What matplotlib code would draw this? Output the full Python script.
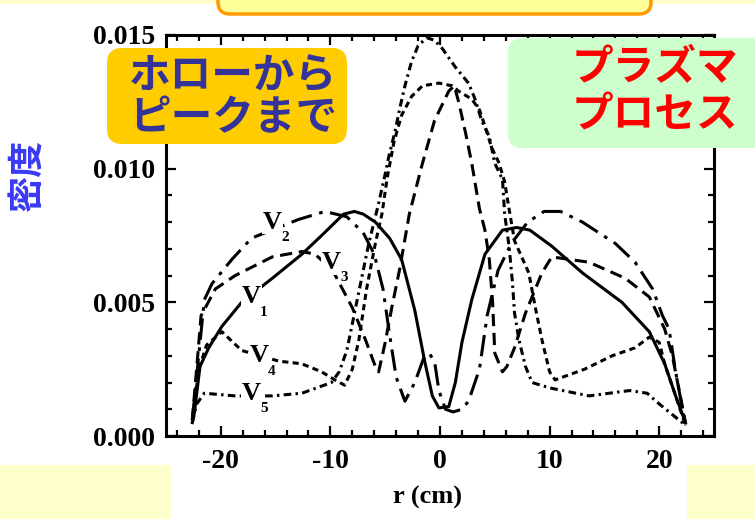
import matplotlib
matplotlib.use("Agg")
import matplotlib.pyplot as plt
from matplotlib.patches import FancyBboxPatch, Rectangle
from matplotlib.ticker import MultipleLocator, FormatStrFormatter

plt.rcParams["axes.unicode_minus"] = False

# density profiles n(r)
r_v1 = [-22.6, -22.4, -21.9, -21.1, -19.9, -18.1, -15.3, -12.6, -10.8, -9.8, -8.8, -7.8, -7.0,
        -5.9, -4.6, -3.5, -2.3, -1.4, -0.7, -0.1, 0.8, 1.4, 2.0, 2.9, 4.1, 5.7, 7.0, 8.2, 10.2,
        13.0, 16.6, 19.1, 20.5, 21.5, 22.4]
n_v1 = [0.0005, 0.0009, 0.0026, 0.0033, 0.0041, 0.0050, 0.0059, 0.0068, 0.0075, 0.0079, 0.0083,
        0.0084, 0.0083, 0.0080, 0.0074, 0.0066, 0.0047, 0.0028, 0.0015, 0.00105, 0.0011, 0.0020,
        0.0035, 0.0051, 0.0068, 0.0077, 0.0078, 0.0077, 0.0071, 0.0061, 0.0050, 0.0039, 0.0027,
        0.0015, 0.0005]

r_v2 = [-22.6, -21.7, -21.5, -20.8, -19.0, -17.2, -12.9, -10.5, -8.5, -7.0, -6.0, -5.2, -4.6,
        -4.0, -3.2, -2.3, -1.5, -1.0, -0.5, -0.1, 0.5, 1.2, 2.0, 2.6, 3.6, 4.3, 5.3, 6.5, 8.0,
        9.5, 11.0, 13.0, 16.0, 17.8, 19.4, 20.3, 20.9, 21.5, 22.4]
n_v2 = [0.0006, 0.0043, 0.0051, 0.0057, 0.0066, 0.0074, 0.0081, 0.0084, 0.0082, 0.0076, 0.0068,
        0.0055, 0.0038, 0.0022, 0.0013, 0.0020, 0.0029, 0.0031, 0.0028, 0.0017, 0.0010, 0.0009,
        0.0010, 0.0013, 0.0025, 0.0045, 0.0062, 0.0072, 0.0080, 0.0084, 0.0084, 0.0080, 0.0072,
        0.0065, 0.0055, 0.0045, 0.0040, 0.0024, 0.0004]

r_v3 = [-22.6, -21.8, -20.5, -18.7, -15.3, -12.6, -11.4, -9.8, -8.0, -6.8, -5.9, -5.6, -5.0,
        -4.4, -3.7, -2.8, -1.6, -0.5, 0.8, 1.3, 1.7, 2.3, 2.9, 3.6, 4.1, 4.5, 4.8, 5.0, 5.7, 6.1,
        6.8, 7.8, 8.4, 9.3, 10.2, 13.6, 16.9, 19.1, 20.5, 21.2, 22.4]
n_v3 = [0.0006, 0.0045, 0.0055, 0.0060, 0.0067, 0.0069, 0.0068, 0.0062, 0.0048, 0.0036, 0.0026,
        0.0024, 0.0035, 0.0048, 0.0062, 0.0083, 0.0102, 0.0118, 0.0129, 0.0131, 0.0125, 0.0114,
        0.0102, 0.0085, 0.0077, 0.0066, 0.0050, 0.0031, 0.0024, 0.0026, 0.0033, 0.0046, 0.0052,
        0.0061, 0.0067, 0.0065, 0.0059, 0.0052, 0.0040, 0.0030, 0.0005]

r_v4 = [-22.6, -22.0, -21.3, -19.9, -18.1, -14.7, -12.6, -10.8, -9.6, -8.7, -8.0, -7.4, -6.7,
        -5.9, -5.3, -4.8, -4.2, -3.5, -2.6, -1.6, -0.1, 1.1, 1.7, 2.9, 3.6, 4.1, 4.7, 5.4, 5.9,
        6.3, 6.8, 8.1, 8.7, 9.3, 10.0, 10.5, 13.2, 15.7, 17.8, 19.1, 20.0, 20.5, 21.5, 22.4]
n_v4 = [0.0006, 0.0025, 0.0034, 0.0039, 0.0032, 0.0028, 0.0027, 0.0024, 0.0021, 0.0019, 0.0025,
        0.0036, 0.0055, 0.0072, 0.0083, 0.0097, 0.0110, 0.0120, 0.0127, 0.0131, 0.0132, 0.0131,
        0.0129, 0.0126, 0.0122, 0.0116, 0.0108, 0.0102, 0.0095, 0.0085, 0.0073, 0.0061, 0.0048,
        0.0036, 0.0024, 0.0021, 0.0025, 0.0030, 0.0033, 0.0037, 0.0035, 0.0027, 0.0015, 0.0004]

r_v5 = [-22.6, -22.2, -21.5, -18.7, -15.3, -12.6, -9.9, -9.2, -8.5, -7.8, -6.5, -5.9, -5.6,
        -5.0, -4.7, -4.1, -3.7, -3.2, -2.6, -2.0, -1.2, -0.5, 0.2, 1.4, 2.6, 3.2, 3.8, 4.5, 5.0,
        5.7, 5.9, 6.3, 6.6, 6.8, 7.2, 7.8, 8.4, 10.0, 13.6, 17.3, 18.9, 20.0, 21.2, 22.4]
n_v5 = [0.0005, 0.0012, 0.0016, 0.0015, 0.0015, 0.0016, 0.0020, 0.0024, 0.0032, 0.0046, 0.0072,
        0.0082, 0.0087, 0.0098, 0.0104, 0.0114, 0.0122, 0.0131, 0.0140, 0.0146, 0.0149, 0.0148,
        0.0145, 0.0138, 0.0132, 0.0126, 0.0118, 0.0112, 0.0102, 0.0096, 0.0083, 0.0071, 0.0058,
        0.0046, 0.0036, 0.0026, 0.0020, 0.0018, 0.0015, 0.0017, 0.0016, 0.0012, 0.0008, 0.0004]

series = [("1", r_v1, n_v1), ("2", r_v2, n_v2), ("3", r_v3, n_v3), ("4", r_v4, n_v4), ("5", r_v5, n_v5)]
styles = {"1": "-", "2": (0, (7, 2.5, 1.2, 2.5)), "3": (0, (4, 2.2)),
          "4": (0, (2, 1.4)), "5": (0, (2.5, 1.4, 0.8, 1.4))}
# where the V_i tags sit on the curves
label_pos = {"1": (-17.2, 0.0052), "2": (-15.3, 0.0080), "3": (-9.9, 0.0065),
             "4": (-16.5, 0.0030), "5": (-17.2, 0.0016)}

serif = "Liberation Serif"
jp = ["Noto Sans CJK JP", "DejaVu Sans"]

fig = plt.figure(figsize=(7.55, 5.19), dpi=100)
fig.patch.set_facecolor("white")

# axes box in pixels: left 166, right 714, top 35, bottom 436
W, H = 755, 519
ax = fig.add_axes([166 / W, (H - 436) / H, (714 - 166) / W, (436 - 35) / H])

for key, r, n in series:
    ax.plot(r, n, color="black", lw=2.2, linestyle=styles[key],
            solid_joinstyle="round", dash_joinstyle="round")

for key, (x, y) in label_pos.items():
    ax.text(x, y, "V", family=serif, weight="bold", fontsize=19, ha="center", va="center",
            bbox=dict(fc="white", ec="none", pad=0.5), zorder=4)
    ax.annotate(key, xy=(x, y), xytext=(9, -11), textcoords="offset points", family=serif,
                weight="bold", fontsize=11, ha="center", va="center", zorder=4)

ax.set_xlim(-25, 25)
ax.set_ylim(0, 0.015)
ax.xaxis.set_major_locator(MultipleLocator(10))
ax.xaxis.set_minor_locator(MultipleLocator(2))
ax.yaxis.set_major_locator(MultipleLocator(0.005))
ax.yaxis.set_minor_locator(MultipleLocator(0.001))
ax.yaxis.set_major_formatter(FormatStrFormatter("%.3f"))
ax.tick_params(which="both", direction="in", top=True, right=True, width=1.6)
ax.tick_params(which="major", length=7)
ax.tick_params(which="minor", length=4)
ax.tick_params(axis="y", pad=8)
ax.tick_params(axis="x", pad=9)
for lab in ax.get_xticklabels() + ax.get_yticklabels():
    lab.set_family(serif)
    lab.set_weight("bold")
    lab.set_fontsize(20)
for sp in ax.spines.values():
    sp.set_linewidth(2.2)

ax.set_xlabel("r (cm)", family=serif, weight="bold", fontsize=19)
ax.xaxis.set_label_coords(0.478, -0.125)
ax.set_ylabel("密度", family=jp, weight="bold", fontsize=26, color="#3a3af5",
              rotation=90, ha="center", va="center")
ax.yaxis.set_label_coords(-0.252, 0.651)

# slide decorations on top, in pixel units
ov = fig.add_axes([0, 0, 1, 1], zorder=5)
ov.set_xlim(0, W)
ov.set_ylim(H, 0)
ov.axis("off")
ov.patch.set_alpha(0)

pale = "#ffffcc"
ov.add_patch(Rectangle((0, 0), 217, 4, fc=pale, ec="none"))
ov.add_patch(Rectangle((652, 0), 103, 4, fc=pale, ec="none"))
ov.add_patch(Rectangle((0, 465), 171, 54, fc=pale, ec="none"))
ov.add_patch(Rectangle((687, 465), 68, 54, fc=pale, ec="none"))
ov.add_patch(FancyBboxPatch((218, -30), 433, 44, boxstyle="round,pad=0,rounding_size=12",
                            fc="#ffff99", ec="#ff9900", lw=2.5))
ov.add_patch(FancyBboxPatch((107, 48), 240, 96, boxstyle="round,pad=0,rounding_size=15",
                            fc="#ffcc00", ec="none"))
ov.add_patch(FancyBboxPatch((508, 38), 270, 110, boxstyle="round,pad=0,rounding_size=15",
                            fc="#ccffcc", ec="none"))

ov.text(233, 77, "ホローから", family=jp, weight="bold", fontsize=30, color="#333399",
        ha="center", va="center")
ov.text(233, 118, "ピークまで", family=jp, weight="bold", fontsize=30, color="#333399",
        ha="center", va="center")
ov.text(655, 68, "プラズマ", family=jp, weight="bold", fontsize=30, color="#ff0000",
        ha="center", va="center")
ov.text(655, 116, "プロセス", family=jp, weight="bold", fontsize=30, color="#ff0000",
        ha="center", va="center")

fig.savefig("out.png", dpi=100)
